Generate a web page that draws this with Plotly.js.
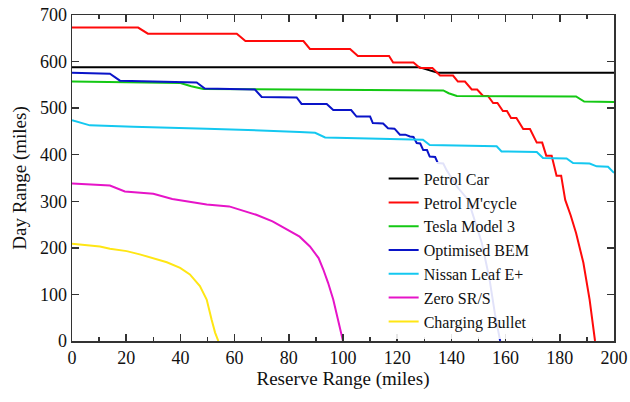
<!DOCTYPE html>
<html>
<head>
<meta charset="utf-8">
<script src="https://cdn.plot.ly/plotly-3.0.1.min.js"></script>
<style>html,body{margin:0;padding:0;background:#fff;}#chart{width:630px;height:402px;}</style>
</head>
<body>
<div id="chart"></div>
<script>
// Series names
const seriesNames = ["Petrol Car", "Petrol M'cycle", "Tesla Model 3", "Optimised BEM", "Nissan Leaf E+", "Zero SR/S", "Charging Bullet"];

// Petrol Car
const petrolCarX = [0, 128, 135, 200];
const petrolCarY = [588, 588, 576, 576];

// Petrol M'cycle
const petrolMcX = [0, 24.4, 28, 60.8, 64, 85.4, 87.8, 102.6, 105.5, 117, 118.5, 126, 128.4, 133, 135.8, 140.6, 142.4, 145, 147.5, 149.5, 151.7, 153.5, 155.4, 157, 159, 160.5, 162, 164, 166.5, 169, 171.5, 173.5, 175, 177, 178.8, 180.5, 182, 184, 186, 188.7, 191, 193];
const petrolMcY = [673, 673, 660, 660, 644, 644, 627, 627, 612, 612, 598, 598, 586, 586, 570, 570, 557, 557, 540, 540, 526, 526, 511, 511, 494, 494, 479, 479, 455, 455, 426, 426, 398, 398, 355, 355, 303, 270, 232, 168, 89, 0];

// Tesla Model 3
const teslaX = [0, 40, 44, 48.5, 137, 139, 142, 186, 189, 200];
const teslaY = [557, 554, 547, 541, 538, 532, 526, 525, 514, 513];

// Optimised BEM
const bemX = [0, 14, 17.7, 46, 49, 67.5, 70, 82.9, 84.7, 94, 96.4, 103, 105, 110, 111, 114.8, 116.6, 119, 121, 123, 124.7, 126, 127.2, 128.5, 129.6, 131, 132, 134, 135, 137, 138.2, 142, 146.2, 151.2, 154, 156.1, 158];
const bemY = [576, 574, 559, 555, 542, 540, 524, 523, 509, 509, 496, 496, 482, 482, 468, 467, 457, 456, 443, 443, 439, 438, 425, 424, 410, 410, 396, 395, 382, 381, 367, 332, 303, 211, 135, 57, 0];

// Nissan Leaf E+
const nissanX = [0, 6.6, 22.6, 49.7, 84, 89.7, 93.4, 129.5, 132, 156.7, 158.5, 171.5, 173.8, 182.5, 184.9, 191, 193.6, 197.8, 200];
const nissanY = [474, 463, 460, 456, 449, 447, 437, 432, 421, 418, 407, 406, 393, 392, 382, 381, 375, 374, 361];

// Zero SR/S
const zeroX = [0, 14, 19.5, 30, 37, 43, 49.7, 58, 62, 68, 74, 80.5, 84, 87.8, 91, 92.7, 94.5, 96.4, 98, 99.5, 100];
const zeroY = [338, 334, 321, 316, 305, 300, 293, 289, 282, 271, 257, 236, 224, 203, 178, 154, 125, 89, 50, 8, 0];

// Charging Bullet
const bulletX = [0, 10.3, 14, 20.2, 25, 30, 35, 39.9, 43.5, 47.2, 49.7, 51.5, 52.8, 54];
const bulletY = [209, 203, 198, 193, 186, 178, 169, 157, 143, 118, 89, 46, 18, 0];

const colors = ["#000000", "#ff0a0a", "#14c814", "#0a14c8", "#14c8f0", "#e614c8", "#ffe614"];
const xs = [petrolCarX, petrolMcX, teslaX, bemX, nissanX, zeroX, bulletX];
const ys = [petrolCarY, petrolMcY, teslaY, bemY, nissanY, zeroY, bulletY];

const traces = seriesNames.map((n, i) => ({
  type: 'scatter', mode: 'lines', name: n,
  x: xs[i], y: ys[i],
  line: {color: colors[i], width: 2}
}));

const fontFam = 'Liberation Serif';
const layout = {
  width: 630, height: 402,
  margin: {l: 72, r: 16, t: 15, b: 61},
  paper_bgcolor: '#fff', plot_bgcolor: '#fff',
  font: {family: fontFam, color: '#111', size: 17},
  showlegend: true,
  legend: {
    x: 0.575, y: 0.55, xanchor: 'left', yanchor: 'top',
    bgcolor: 'rgba(255,255,255,0.88)', borderwidth: 0,
    font: {family: fontFam, size: 16, color: '#111'},
    tracegroupgap: 0
  },
  xaxis: {
    range: [0, 200], dtick: 20, tick0: 0,
    ticks: 'inside', ticklen: 7, tickwidth: 1.5, tickcolor: '#333',
    minor: {dtick: 10, ticks: 'inside', ticklen: 4, tickcolor: '#333', tickwidth: 1.5},
    showline: true, linecolor: '#333', linewidth: 1.5, mirror: 'ticks',
    showgrid: false, zeroline: false,
    tickfont: {family: fontFam, size: 18, color: '#111'},
    title: {text: 'Reserve Range (miles)', font: {family: fontFam, size: 19, color: '#111'}, standoff: 4}
  },
  yaxis: {
    range: [0, 700], dtick: 100, tick0: 0,
    ticks: 'inside', ticklen: 7, tickwidth: 1.5, tickcolor: '#333',
    showline: true, linecolor: '#333', linewidth: 1.5, mirror: 'ticks',
    showgrid: false, zeroline: false,
    tickfont: {family: fontFam, size: 18, color: '#111'},
    title: {text: 'Day Range (miles)', font: {family: fontFam, size: 19, color: '#111'}, standoff: 8}
  }
};

Plotly.newPlot('chart', traces, layout, {staticPlot: true, displayModeBar: false});
</script>
</body>
</html>
